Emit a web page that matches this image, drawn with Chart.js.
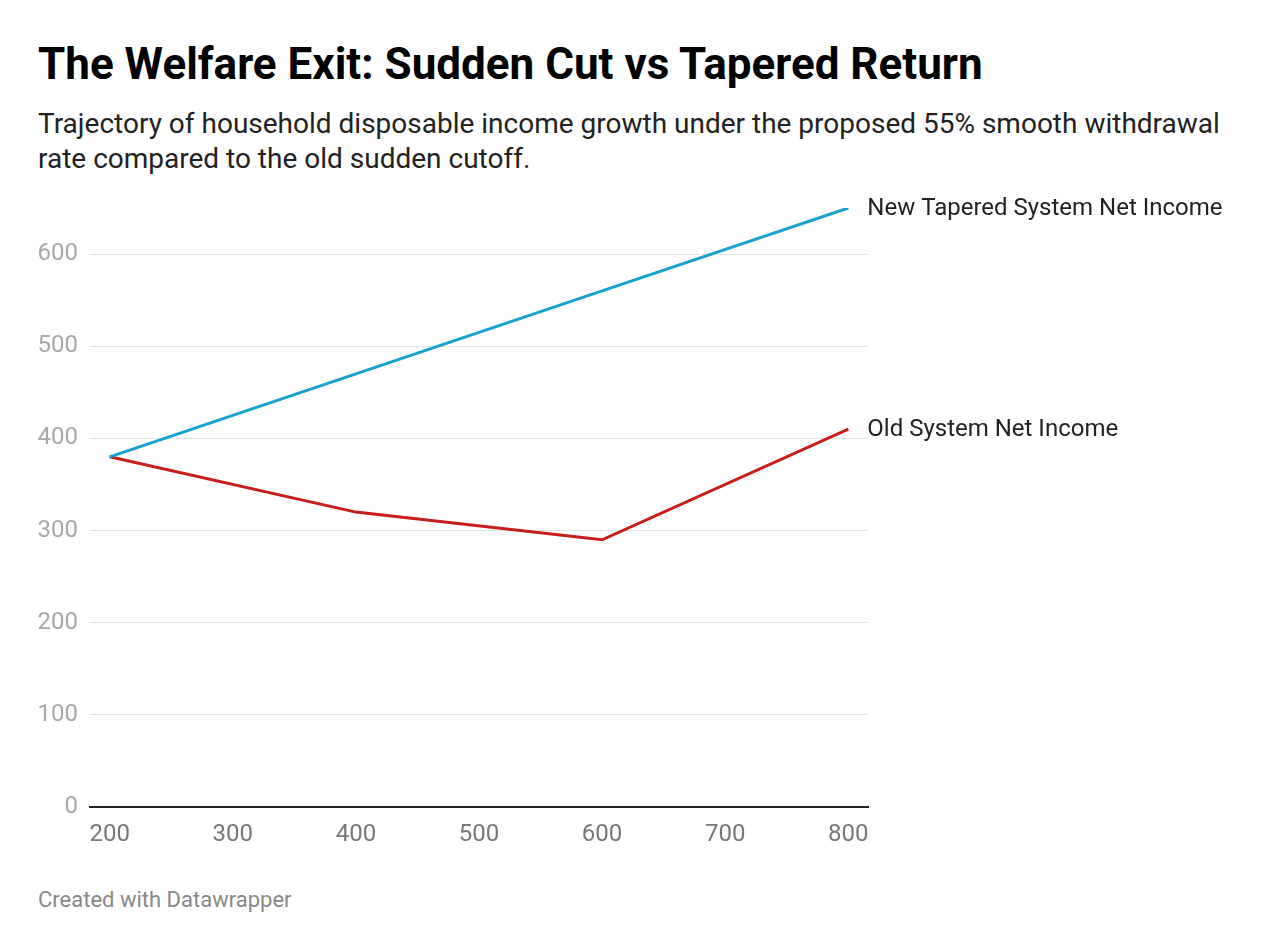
<!DOCTYPE html>
<html>
<head>
<meta charset="utf-8">
<script src="https://cdn.jsdelivr.net/npm/chart.js"></script>
<style>
  html, body { margin: 0; padding: 0; background: #fff; }
  body { width: 1276px; height: 952px; position: relative; font-family: Roboto, sans-serif; overflow: hidden; }
  #title { position: absolute; left: 38px; top: 38px; margin: 0; font-size: 44px; font-weight: 700; color: #000; line-height: 52px; white-space: nowrap; }
  #subtitle { position: absolute; left: 38px; top: 106px; width: 1200px; margin: 0; font-size: 28px; color: #222; line-height: 35px; }
  #footer { position: absolute; left: 38px; top: 887px; font-size: 22px; line-height: 26px; color: #888; }
  #wrap { position: absolute; left: 0; top: 180px; width: 1276px; height: 677px; }
</style>
</head>
<body>
<h1 id="title">The Welfare Exit: Sudden Cut vs Tapered Return</h1>
<p id="subtitle">Trajectory of household disposable income growth under the proposed 55% smooth withdrawal rate compared to the old sudden cutoff.</p>
<div id="wrap"><canvas id="chart"></canvas></div>
<div id="footer">Created with Datawrapper</div>
<script>
// earnings steps (x) and net income (y)
const earnings = [200, 400, 600, 800];
const newTapered = [380, 470, 560, 650];
const oldSystem = [380, 320, 290, 410];
const seriesNames = ['New Tapered System Net Income', 'Old System Net Income'];
const seriesColors = ['#18a1cd', '#c71e1d'];
const xTicks = [200, 300, 400, 500, 600, 700, 800];
const yTicks = [0, 100, 200, 300, 400, 500, 600];

const toPoints = (vals) => earnings.map((x, i) => ({ x: x, y: vals[i] }));

// series names written at the end of each line
const endLabels = {
    id: 'endLabels',
    afterDatasetsDraw(chart) {
        const ctx = chart.ctx;
        ctx.save();
        ctx.font = '24px Roboto';
        ctx.fillStyle = '#222';
        ctx.textBaseline = 'middle';
        chart.data.datasets.forEach((ds, i) => {
            const meta = chart.getDatasetMeta(i);
            const last = meta.data[meta.data.length - 1];
            ctx.fillText(ds.label, last.x + 19, last.y + 1);
        });
        ctx.restore();
    }
};

new Chart(document.getElementById('chart'), {
    type: 'line',
    data: {
        datasets: [
            { label: seriesNames[0], data: toPoints(newTapered), borderColor: seriesColors[0], borderWidth: 3, pointRadius: 0, tension: 0 },
            { label: seriesNames[1], data: toPoints(oldSystem), borderColor: seriesColors[1], borderWidth: 3, pointRadius: 0, tension: 0 }
        ]
    },
    options: {
        responsive: true,
        maintainAspectRatio: false,
        animation: false,
        events: [],
        layout: { padding: { top: 28, right: 408, left: 0, bottom: 0 } },
        plugins: { legend: { display: false }, tooltip: { enabled: false } },
        scales: {
            x: {
                type: 'linear',
                min: 184, max: 816,
                afterBuildTicks: (s) => { s.ticks = xTicks.map(v => ({ value: v })); },
                afterFit: (s) => { s.height = 50; },
                grid: { display: false, drawTicks: false },
                border: { display: true, color: '#222', width: 2 },
                ticks: { color: '#777', font: { family: 'Roboto', size: 24 }, padding: 14, maxRotation: 0 }
            },
            y: {
                min: 0, max: 650,
                afterBuildTicks: (s) => { s.ticks = yTicks.map(v => ({ value: v })); },
                afterFit: (s) => { s.width = 90; },
                grid: { color: '#e2e2e2', lineWidth: 1, drawTicks: false },
                border: { display: false },
                ticks: { color: '#a8a8a8', font: { family: 'Roboto', size: 24 }, padding: 12 }
            }
        }
    },
    plugins: [endLabels]
});
</script>
</body>
</html>
